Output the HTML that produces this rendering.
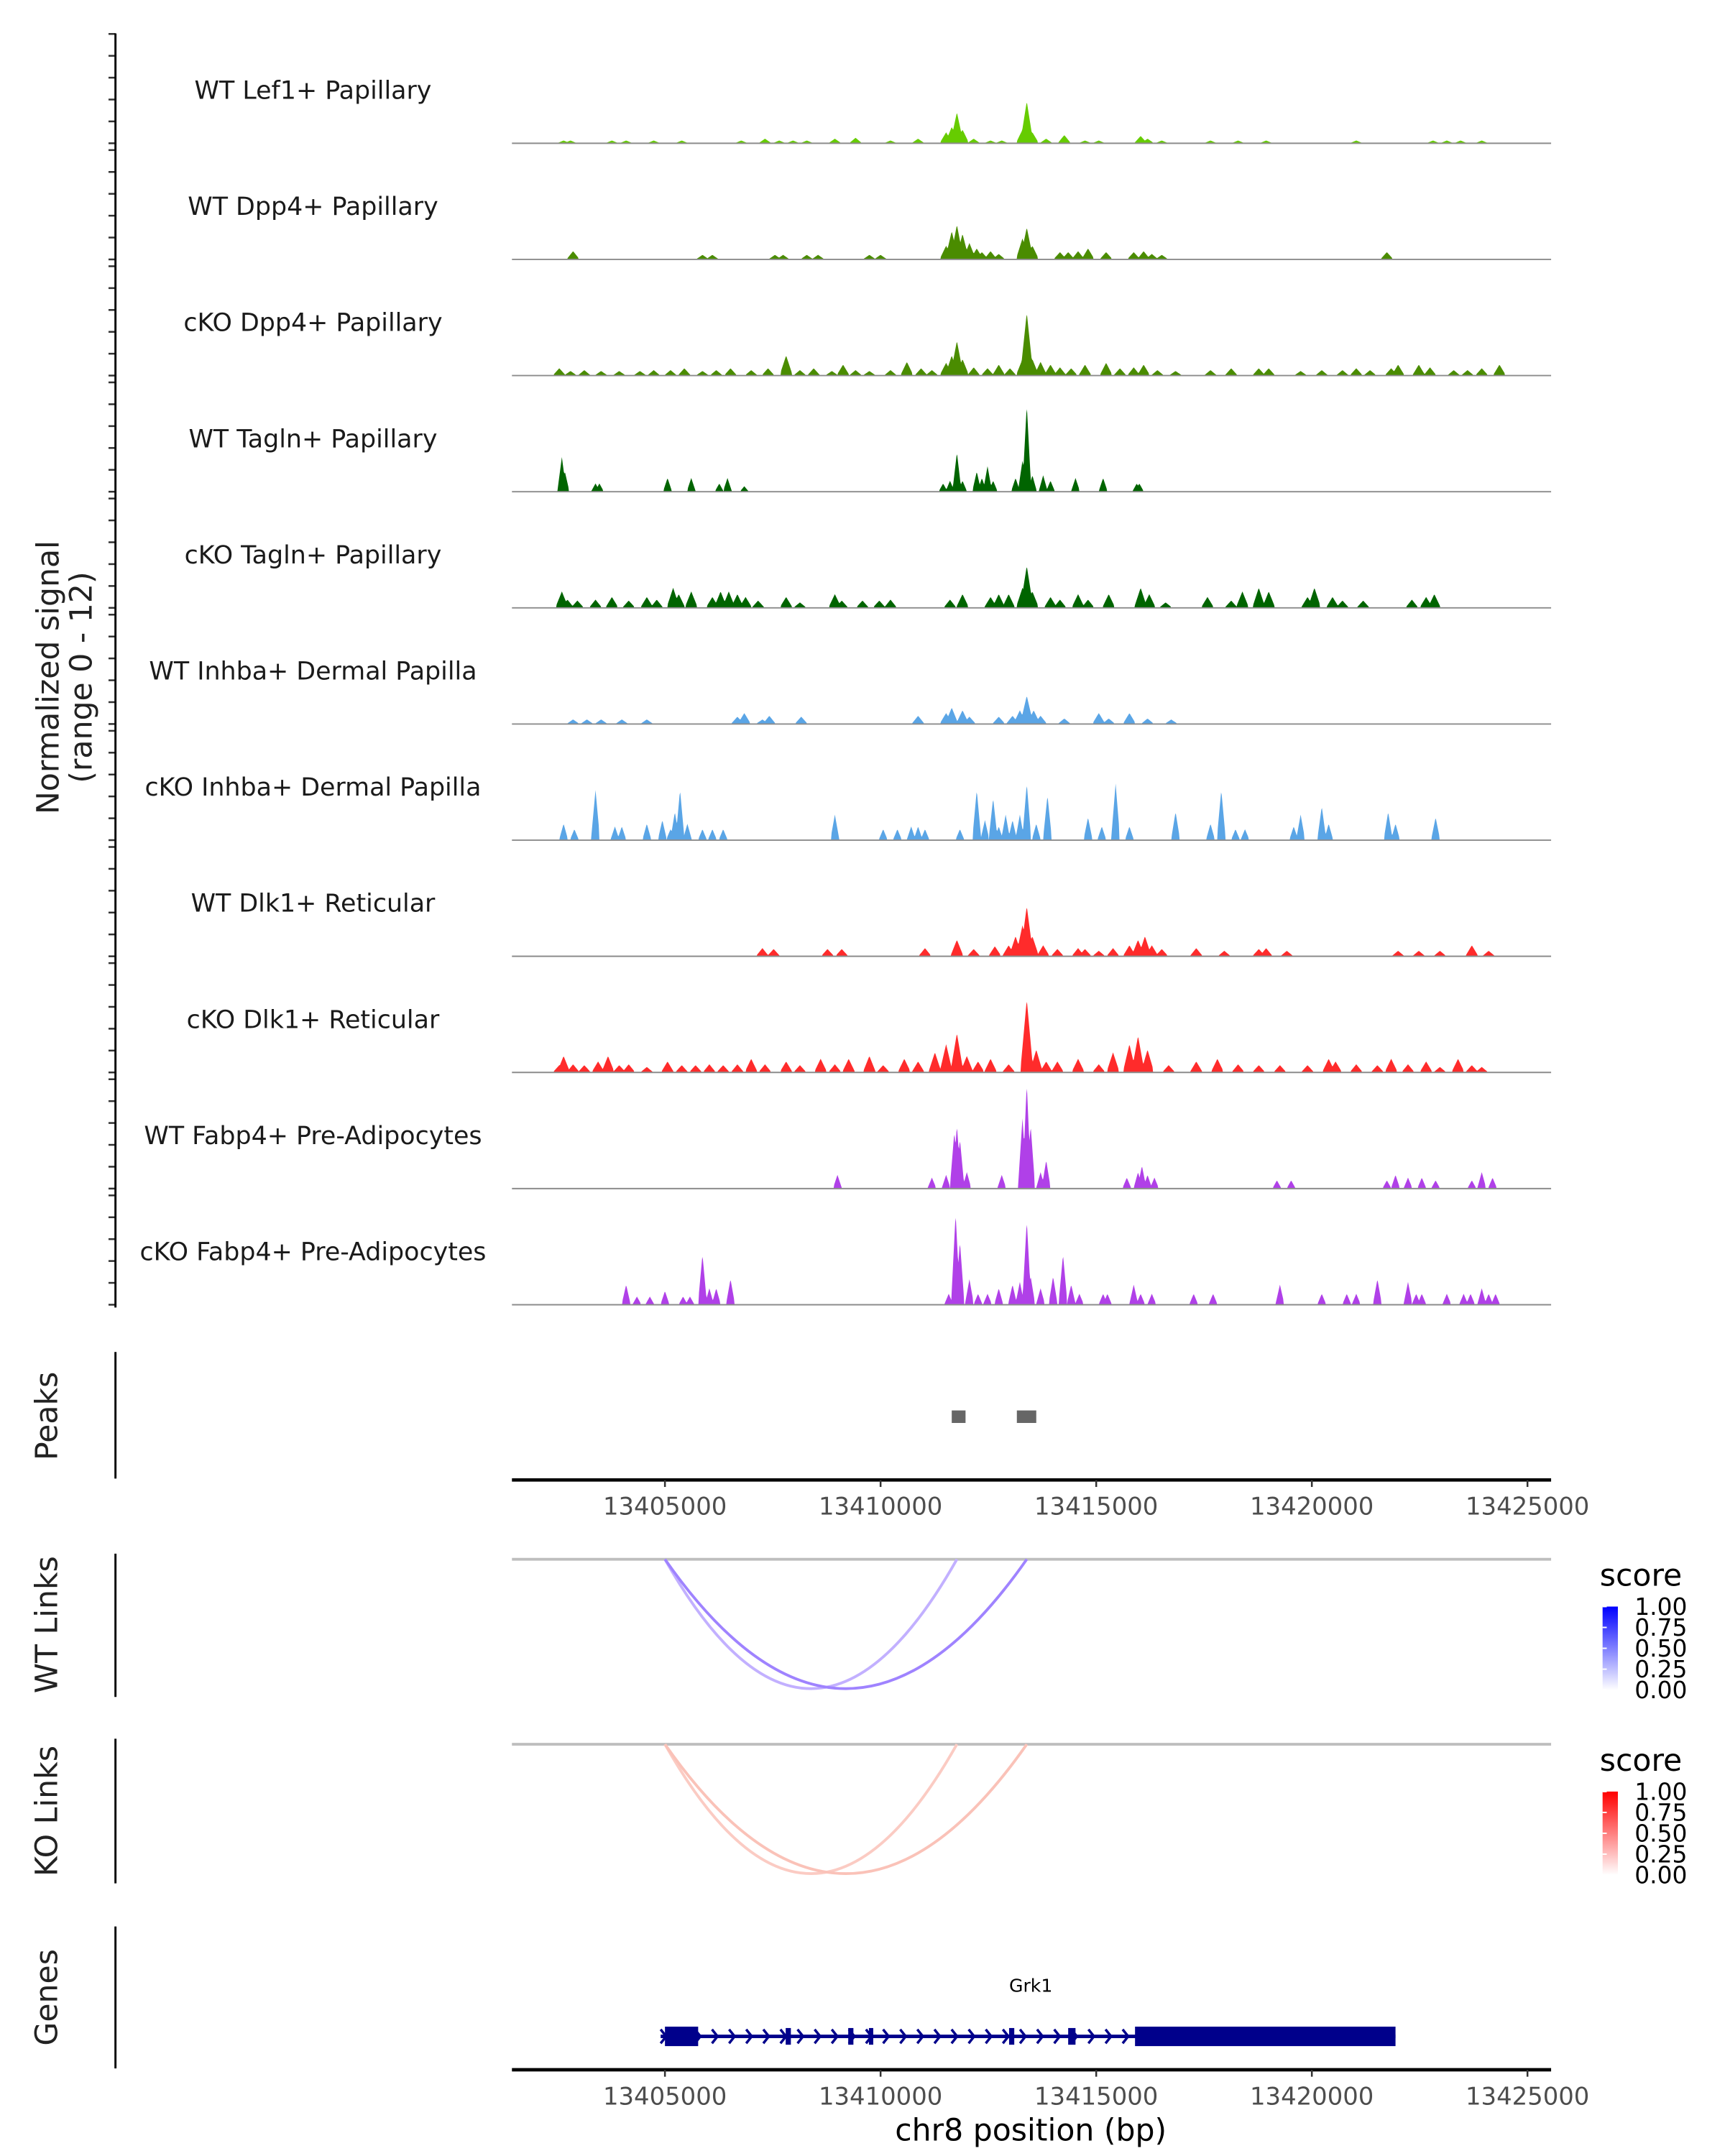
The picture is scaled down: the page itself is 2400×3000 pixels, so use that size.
<!DOCTYPE html>
<html><head><meta charset="utf-8">
<style>
html,body{margin:0;padding:0;background:#fff;}
svg{display:block;font-family:"DejaVu Sans","Liberation Sans",sans-serif;}
</style></head>
<body>
<svg id="chart" xmlns="http://www.w3.org/2000/svg" width="2400" height="3000" viewBox="0 0 1240 1550">
  <rect x="0" y="0" width="1240" height="1550" fill="#fff"/>
  <g id="tracks"></g>
  <g id="axes"></g>
  <text transform="translate(42,487) rotate(-90)" text-anchor="middle" font-size="22" fill="#222">Normalized signal</text>
  <text transform="translate(66,487) rotate(-90)" text-anchor="middle" font-size="22" fill="#222">(range 0 - 12)</text>
  <text transform="translate(41,1018) rotate(-90)" text-anchor="middle" font-size="22" fill="#222">Peaks</text>
  <text transform="translate(41,1168) rotate(-90)" text-anchor="middle" font-size="22" fill="#222">WT Links</text>
  <text transform="translate(41,1302) rotate(-90)" text-anchor="middle" font-size="22" fill="#222">KO Links</text>
  <text transform="translate(41,1436) rotate(-90)" text-anchor="middle" font-size="22" fill="#222">Genes</text>
  <text x="741" y="1539" text-anchor="middle" font-size="22" fill="#000">chr8 position (bp)</text>
  <text x="741" y="1432" text-anchor="middle" font-size="13" fill="#000">Grk1</text>
  <defs>
    <linearGradient id="gBlue" x1="0" y1="1" x2="0" y2="0">
      <stop offset="0" stop-color="#ffffff"/><stop offset="1" stop-color="#0000ff"/>
    </linearGradient>
    <linearGradient id="gRed" x1="0" y1="1" x2="0" y2="0">
      <stop offset="0" stop-color="#ffffff"/><stop offset="1" stop-color="#ff0000"/>
    </linearGradient>
  </defs>
</svg>
<script>
const BASE = 13400000;
const X_MIN_BP = 13401452, X_MAX_BP = 13425548;
const tickBp = [13405000, 13410000, 13415000, 13420000, 13425000];
const trackLabels = ["WT Lef1+ Papillary","WT Dpp4+ Papillary","cKO Dpp4+ Papillary","WT Tagln+ Papillary","cKO Tagln+ Papillary","WT Inhba+ Dermal Papilla","cKO Inhba+ Dermal Papilla","WT Dlk1+ Reticular","cKO Dlk1+ Reticular","WT Fabp4+ Pre-Adipocytes","cKO Fabp4+ Pre-Adipocytes"];
const trackColors = ["#66cc00","#4a8c00","#4a8c00","#006400","#006400","#5aa5e6","#5aa5e6","#ff2b2b","#ff2b2b","#b040e8","#b040e8"];
const pos1=[2.65,2.81,3.77,4.10,4.74,5.39,6.77,7.32,7.65,7.97,8.29,8.94,9.42,10.23,10.87,11.52,11.65,11.77,11.90,12.16,12.55,12.81,13.29,13.39,13.52,13.84,14.26,14.74,15.06,16.03,16.19,16.52,17.65,18.29,18.94,21.03,22.81,23.13,23.45,23.94];
const val1=[0.3,0.3,0.3,0.3,0.3,0.3,0.3,0.5,0.3,0.3,0.3,0.5,0.6,0.3,0.5,1.2,1.8,3.4,1.5,0.5,0.3,0.3,1.5,4.6,1.2,0.5,0.9,0.3,0.3,0.8,0.5,0.3,0.3,0.3,0.3,0.3,0.3,0.3,0.3,0.3];
const pos2=[2.87,5.87,6.10,7.55,7.74,8.29,8.55,9.74,10.0,11.52,11.65,11.77,11.90,12.06,12.23,12.35,12.55,12.74,13.29,13.39,13.52,14.16,14.35,14.58,14.81,15.23,15.87,16.10,16.29,16.52,21.74];
const val2=[0.9,0.5,0.5,0.5,0.5,0.5,0.5,0.5,0.5,1.5,3.1,3.8,2.8,1.8,1.2,0.8,0.9,0.6,2.3,3.5,1.5,0.8,0.8,0.9,1.2,0.8,0.8,0.9,0.6,0.5,0.8];
const pos3=[2.55,2.81,3.13,3.52,3.94,4.42,4.74,5.13,5.45,5.87,6.19,6.52,7.0,7.39,7.81,8.13,8.45,8.87,9.13,9.42,9.74,10.23,10.61,10.94,11.19,11.52,11.65,11.77,11.90,12.16,12.48,12.74,13.0,13.29,13.39,13.52,13.71,13.94,14.16,14.42,14.74,15.23,15.55,15.87,16.10,16.42,16.84,17.65,18.13,18.77,19.0,19.74,20.23,20.71,21.03,21.35,21.84,22.0,22.48,22.74,23.29,23.61,23.94,24.35];
const val3=[0.8,0.5,0.6,0.5,0.5,0.5,0.6,0.6,0.8,0.5,0.6,0.8,0.6,0.8,2.2,0.6,0.8,0.5,1.2,0.6,0.5,0.6,1.5,0.8,0.6,1.4,2.2,3.8,1.8,0.9,0.8,1.2,0.8,1.8,6.9,1.8,1.5,1.2,0.9,0.8,1.2,1.4,0.8,0.9,1.2,0.6,0.5,0.6,0.8,0.8,0.8,0.5,0.6,0.6,0.8,0.6,0.8,1.2,1.2,0.9,0.6,0.6,0.8,1.2];
const pos4=[2.61,2.68,3.39,3.48,5.06,5.61,6.26,6.45,6.84,11.45,11.61,11.77,11.90,12.23,12.35,12.48,12.61,13.13,13.29,13.39,13.52,13.77,13.94,14.52,15.16,15.94,16.0];
const val4=[3.8,2.2,0.9,0.9,1.5,1.5,0.9,1.5,0.6,0.9,1.2,4.3,1.2,2.2,1.5,2.8,1.2,1.5,3.4,9.5,1.8,1.8,1.2,1.5,1.5,0.9,0.9];
const pos5=[2.61,2.74,2.97,3.39,3.77,4.16,4.58,4.81,5.19,5.32,5.61,6.10,6.29,6.48,6.68,6.87,7.16,7.81,8.13,8.94,9.10,9.58,9.97,10.23,11.61,11.90,12.55,12.74,12.97,13.29,13.39,13.52,13.94,14.16,14.58,14.81,15.29,16.03,16.23,16.61,17.58,18.13,18.39,18.77,19.0,19.90,20.06,20.48,20.71,21.19,22.32,22.65,22.84];
const val5=[1.8,0.9,0.8,0.9,1.2,0.8,1.2,0.9,2.2,1.5,1.8,1.2,1.8,1.8,1.5,1.2,0.8,1.2,0.6,1.5,0.8,0.8,0.8,0.9,0.9,1.5,1.2,1.5,1.5,2.2,4.6,1.8,1.2,0.9,1.5,0.9,1.5,2.2,1.5,0.6,1.2,0.8,1.8,2.2,1.8,1.2,2.2,1.2,0.8,0.8,0.9,1.2,1.5];
const pos6=[2.87,3.19,3.52,4.0,4.58,6.68,6.84,7.26,7.42,8.16,10.87,11.52,11.65,11.90,12.06,12.74,13.06,13.23,13.39,13.55,13.71,14.26,15.06,15.29,15.77,16.19,16.74];
const val6=[0.5,0.5,0.5,0.5,0.5,0.8,1.2,0.5,0.9,0.8,0.9,1.2,1.8,1.5,0.8,0.8,0.9,1.5,3.1,1.5,0.9,0.6,1.2,0.6,1.2,0.6,0.5];
const pos7=[2.65,2.90,3.39,3.84,4.0,4.58,4.94,5.13,5.23,5.35,5.52,5.87,6.10,6.35,8.94,10.06,10.39,10.71,10.87,11.03,11.84,12.23,12.42,12.61,12.74,12.90,13.06,13.23,13.39,13.61,13.87,14.81,15.13,15.45,15.77,16.84,17.65,17.90,18.23,18.45,19.58,19.74,20.23,20.39,21.77,21.94,22.87];
const val7=[1.8,1.2,5.5,1.5,1.5,1.8,2.2,1.2,3.1,5.5,1.8,1.2,1.2,1.2,2.8,1.2,1.2,1.5,1.5,1.2,1.2,5.5,2.2,4.6,1.5,2.8,2.2,2.8,6.2,1.8,4.9,2.5,1.5,6.2,1.5,3.1,1.8,5.5,1.2,1.2,1.5,2.8,3.7,1.8,3.1,1.8,2.5];
const pos8=[7.26,7.52,8.77,9.10,11.03,11.77,12.16,12.65,12.97,13.13,13.29,13.39,13.52,13.77,14.10,14.58,14.74,15.06,15.39,15.77,15.97,16.13,16.29,16.52,17.32,17.97,18.77,18.94,19.42,22.0,22.48,22.97,23.71,24.10];
const val8=[0.9,0.8,0.8,0.8,0.9,1.8,0.8,1.1,1.2,2.2,3.4,5.5,2.2,1.2,0.8,0.9,0.8,0.6,0.9,1.2,1.8,2.2,1.2,0.8,0.9,0.6,0.8,0.9,0.6,0.6,0.6,0.6,1.2,0.6];
const pos9=[2.55,2.65,2.87,3.13,3.45,3.68,3.94,4.16,4.58,5.06,5.39,5.71,6.03,6.35,6.68,7.0,7.32,7.81,8.13,8.61,8.94,9.26,9.74,10.06,10.55,10.87,11.26,11.52,11.77,12.0,12.26,12.55,12.97,13.39,13.61,13.84,14.10,14.58,15.06,15.39,15.77,15.97,16.19,16.68,17.32,17.81,18.29,18.77,19.26,19.90,20.39,20.55,21.03,21.52,21.84,22.23,22.65,22.97,23.39,23.71,23.94];
const val9=[0.8,1.8,0.9,0.8,1.2,1.8,0.8,0.9,0.6,1.2,0.8,0.8,0.9,0.8,0.9,1.5,0.9,1.2,0.8,1.5,0.9,1.5,1.8,0.8,1.5,1.2,2.2,3.1,4.3,1.8,1.2,1.5,0.9,8.0,2.5,1.2,1.2,1.5,0.9,2.2,3.1,4.0,2.5,0.8,1.2,1.5,0.9,0.8,0.8,0.8,1.5,1.2,0.9,0.8,1.5,0.9,1.2,0.6,1.5,0.8,0.6];
const pos10=[9.0,11.19,11.52,11.71,11.77,11.84,12.0,12.81,13.29,13.39,13.48,13.71,13.84,15.71,15.97,16.06,16.19,16.35,19.19,19.52,21.74,21.94,22.23,22.55,22.87,23.71,23.94,24.19];
const val10=[1.5,1.2,1.5,6.2,6.9,5.4,1.8,1.5,7.7,11.5,6.9,1.8,3.1,1.2,1.8,2.5,1.5,1.2,0.9,0.9,0.9,1.5,1.2,1.2,0.9,0.9,1.8,1.2];
const pos11=[4.10,4.35,4.65,5.0,5.42,5.58,5.87,6.03,6.19,6.52,11.58,11.74,11.84,12.06,12.26,12.48,12.74,13.06,13.23,13.39,13.48,13.71,14.0,14.23,14.42,14.61,15.16,15.26,15.87,16.03,16.29,17.26,17.71,19.26,20.23,20.81,21.03,21.52,22.23,22.42,22.55,23.13,23.52,23.68,23.94,24.10,24.26];
const val11=[2.2,0.9,0.9,1.5,0.9,0.9,5.5,1.8,1.8,2.8,1.2,10.0,6.9,2.8,1.2,1.2,1.8,2.2,2.5,9.2,3.1,1.8,3.1,5.5,2.2,1.2,1.2,1.2,2.2,1.2,1.2,1.2,1.2,2.2,1.2,1.2,1.2,2.8,2.5,1.2,1.2,1.2,1.2,1.2,1.8,1.2,1.2];
const trackPos=[pos1,pos2,pos3,pos4,pos5,pos6,pos7,pos8,pos9,pos10,pos11];
const trackVal=[val1,val2,val3,val4,val5,val6,val7,val8,val9,val10,val11];
const peakStart=[13411650,13413160];
const peakEnd=[13411970,13413610];
const wtLinkStart=[13405000,13405000];
const wtLinkEnd=[13411770,13413390];
const wtLinkScore=[0.35,0.55];
const koLinkStart=[13405000,13405000];
const koLinkEnd=[13411770,13413390];
const koLinkScore=[0.28,0.33];
const legendTicks=["1.00","0.75","0.50","0.25","0.00"];
const geneStart=13404900, geneEnd=13421940;
const exonStart=[13405000,13407800,13409250,13409730,13412980,13414350,13415900];
const exonEnd=[13405770,13407920,13409370,13409830,13413100,13414520,13421940];

const NS="http://www.w3.org/2000/svg";
const svg=document.getElementById('chart');
const tracksG=document.getElementById('tracks');
const axesG=document.getElementById('axes');
function xs(bp){return 368+(bp-X_MIN_BP)/(X_MAX_BP-X_MIN_BP)*747;}
function mk(tag,attrs,parent){const e=document.createElementNS(NS,tag);for(const k in attrs)e.setAttribute(k,attrs[k]);(parent||svg).appendChild(e);return e;}

const TRACK_H=78.6, TOP0=103, STEP=83.5;
for(let t=0;t<11;t++){
  const base=TOP0+t*STEP;
  const p=trackPos[t], v=trackVal[t];
  const w=(t===6||t===9||t===10||t===3)?0.09:0.13;
  let d="M"+xs(BASE+2400)+","+base;
  for(let k=2.4;k<=24.6;k+=0.015){
    let m=0;
    for(let i=0;i<p.length;i++){const dd=Math.abs(k-p[i]);if(dd<w){const h=v[i]*(1-dd/w*0.85);if(h>m)m=h;}}
    d+=" L"+xs(BASE+k*1000).toFixed(2)+","+(base-m/12*TRACK_H).toFixed(2);
  }
  d+=" L"+xs(BASE+24600)+","+base+" Z";
  const area=mk('path',{d:d,fill:trackColors[t],stroke:'none'},tracksG);
  
  
  const bl=mk('line',{x1:368,x2:1115,y1:base,y2:base,stroke:'#8c8c8c','stroke-width':1},tracksG);
  
  
  const lab=mk('text',{x:225,y:base-32,'text-anchor':'middle','font-size':18,fill:'#1a1a1a'},tracksG);
  lab.textContent=trackLabels[t];
  
  
  for(let j=0;j<=5;j++){
    const ty=base-TRACK_H+j*TRACK_H/5;
    const tk=mk('line',{x1:78,x2:83,y1:ty,y2:ty,stroke:'#333','stroke-width':1.3},axesG);
    
    
  }
}
const yax=mk('line',{x1:83,x2:83,y1:24,y2:940,stroke:'#000','stroke-width':1.5},axesG);


[[972,1063],[1117,1220],[1250,1354],[1385,1487]].forEach(function(r,i){
  const l=mk('line',{x1:83,x2:83,y1:r[0],y2:r[1],stroke:'#000','stroke-width':1.5},axesG);
  
  
});
for(let i=0;i<peakStart.length;i++){
  const r=mk('rect',{x:xs(peakStart[i]),y:1014,width:xs(peakEnd[i])-xs(peakStart[i]),height:9,fill:'#666'});
  
  
}
[1064,1488].forEach(function(ay,ai){
  const ax=mk('line',{x1:368,x2:1115,y1:ay,y2:ay,stroke:'#000','stroke-width':2.4},axesG);
  
  
  tickBp.forEach(function(b){
    const tk=mk('line',{x1:xs(b),x2:xs(b),y1:ay,y2:ay+5,stroke:'#333','stroke-width':1.3},axesG);
    
    
    const tl=mk('text',{x:xs(b),y:ay+25,'text-anchor':'middle','font-size':17.5,fill:'#4d4d4d'},axesG);
    tl.textContent=String(b);
    
    
  });
});
function mix(c,s){const r=Math.round(255+(c[0]-255)*s),g=Math.round(255+(c[1]-255)*s),b=Math.round(255+(c[2]-255)*s);return 'rgb('+r+','+g+','+b+')';}
function drawLinks(y0,starts,ends,scores,col,name,grad){
  const bl=mk('line',{x1:368,x2:1115,y1:y0,y2:y0,stroke:'#bebebe','stroke-width':2});
  
  
  const depth=93;
  for(let i=0;i<starts.length;i++){
    const a=xs(starts[i]),b=xs(ends[i]);
    const p=mk('path',{d:'M'+a+','+y0+' Q'+((a+b)/2)+','+(y0+depth*2)+' '+b+','+y0,fill:'none',stroke:mix(col,scores[i]),'stroke-width':2});
    
    
  }
  const lt=mk('text',{x:1150,y:y0+19,'font-size':22,fill:'#000'});
  lt.textContent='score';
  
  
  const cb=mk('rect',{x:1152,y:y0+34,width:11,height:60,fill:'url(#'+grad+')'});
  
  
  legendTicks.forEach(function(s,j){
    const yy=y0+34+j*15;
    const tk=mk('line',{x1:1152,x2:1155,y1:yy,y2:yy,stroke:'#fff','stroke-width':1});
    
    
    const tl=mk('text',{x:1175,y:yy+6,'font-size':17,fill:'#000'});
    tl.textContent=s;
    
    
  });
}
drawLinks(1121,wtLinkStart,wtLinkEnd,wtLinkScore,[80,30,255],'wt-links','gBlue');
drawLinks(1254,koLinkStart,koLinkEnd,koLinkScore,[240,70,40],'ko-links','gRed');
const GY=1464;
const gl=mk('line',{x1:xs(geneStart),x2:xs(geneEnd),y1:GY,y2:GY,stroke:'#00008b','stroke-width':2.5});


for(let bx=xs(geneStart)+2;bx<xs(exonStart[6]);bx+=12.3){
  const ch=mk('path',{d:'M'+(bx-2)+','+(GY-5)+' L'+(bx+2)+','+GY+' L'+(bx-2)+','+(GY+5),fill:'none',stroke:'#00008b','stroke-width':1.8});
  
  
}
for(let i=0;i<exonStart.length;i++){
  const big=(i===0||i===6);
  const a=xs(exonStart[i]),b=xs(exonEnd[i]);
  const r=mk('rect',{x:a,y:big?GY-7:GY-6,width:Math.max(b-a,2.5),height:big?14:12,fill:'#00008b'});
  
  
}
</script>
</body></html>
